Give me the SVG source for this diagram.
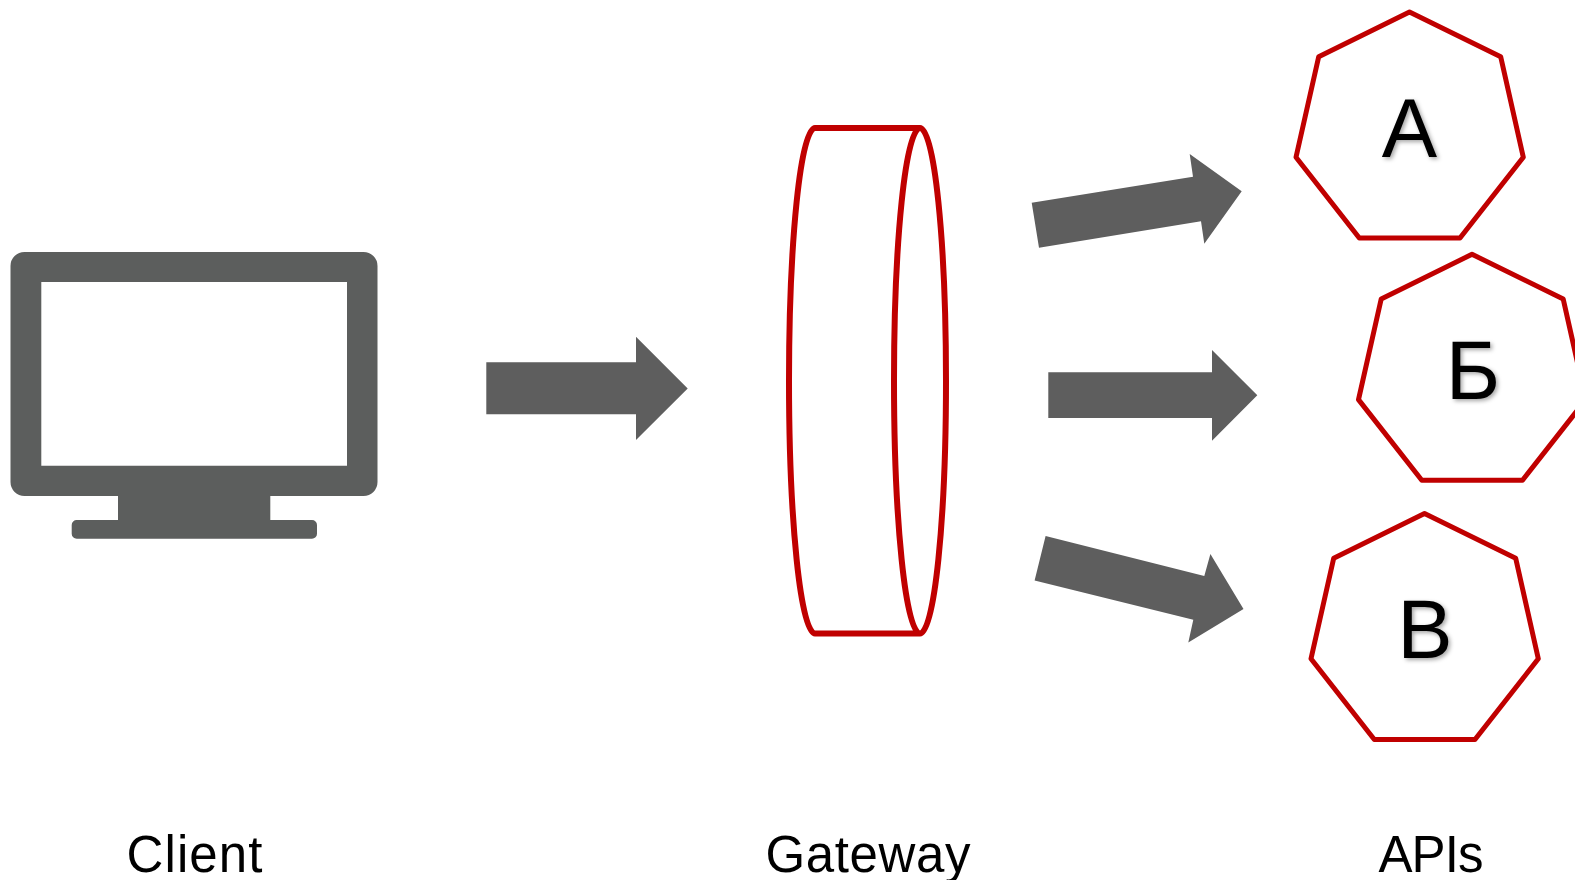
<svg xmlns="http://www.w3.org/2000/svg" width="1575" height="880" viewBox="0 0 1575 880">
<style>
text{font-family:"Liberation Sans",Arial,sans-serif;fill:#000;text-anchor:middle}
.cap{font-size:51px}
.big{font-size:83px;filter:url(#sh)}
.out{fill:#fff;stroke:#c00000;stroke-width:5;stroke-linejoin:round}
.arrow{fill:#5e5e5e}
</style>
<defs>
<filter id="sh" x="-30%" y="-30%" width="160%" height="160%"><feDropShadow dx="2" dy="2" stdDeviation="2" flood-color="#000" flood-opacity="0.35"/></filter>
<polygon id="hep" points="1409.5,12 1500.7,56.7 1523.3,157.3 1460,238 1359.3,238 1296,157.3 1318.7,56.7"/>
</defs>
<rect width="1575" height="880" fill="#fff"/>
<g id="client">
<path fill="#5c5e5d" fill-rule="evenodd" d="M24.5 252H363.5A14 14 0 0 1 377.5 266V482A14 14 0 0 1 363.5 496H270.300V520H312A5 5 0 0 1 317 525V533.700A5 5 0 0 1 312 538.700H76.700A5 5 0 0 1 71.700 533.700V525A5 5 0 0 1 76.700 520H118V496H24.500A14 14 0 0 1 10.500 482V266A14 14 0 0 1 24.500 252ZM41.300 282V465.700H347V282Z"/>
<text class="cap" x="194.500" y="871.500" textLength="136">Client</text>
</g>
<g id="gateway">
<path fill="none" stroke="#c00000" stroke-width="6" stroke-linejoin="round" d="M815 128H920A26 252.700 0 0 1 920 633.400H815A26 252.700 0 0 1 815 128ZM920 128A26 252.700 0 0 0 920 633.400"/>
<text class="cap" x="868" y="871.500" textLength="205">Gateway</text>
</g>
<g id="api-a">
<use href="#hep" class="out"/>
<text class="big" x="1409.500" y="156.700">А</text>
</g>
<g id="api-b">
<use href="#hep" class="out" transform="translate(62.500 242.300)"/>
<text class="big" x="1473" y="399.300">Б</text>
</g>
<g id="api-v">
<use href="#hep" class="out" transform="translate(15 501.500)"/>
<text class="big" x="1425" y="657.700">В</text>
</g>
<text id="apis-label" class="cap" x="1431" y="871.500" textLength="105">APIs</text>
<g id="connectors">
<polygon class="arrow" points="486.300,362.300 636,362.300 636,336.700 687.700,388.500 636,440 636,414.300 486.300,414.300"/>
<polygon class="arrow" points="1031.700,202.700 1193,176.700 1189.700,154 1241.700,191.300 1204.300,243.700 1201,221.300 1039,247.700"/>
<polygon class="arrow" points="1048.300,372.300 1212,372.300 1212,350 1257.300,395.300 1212,440.700 1212,418 1048.300,418"/>
<polygon class="arrow" points="1045.600,536 1204.300,576 1210.400,554 1243.500,609 1188.300,642.500 1193.300,619.700 1034.600,580.500"/>
</g>
</svg>
